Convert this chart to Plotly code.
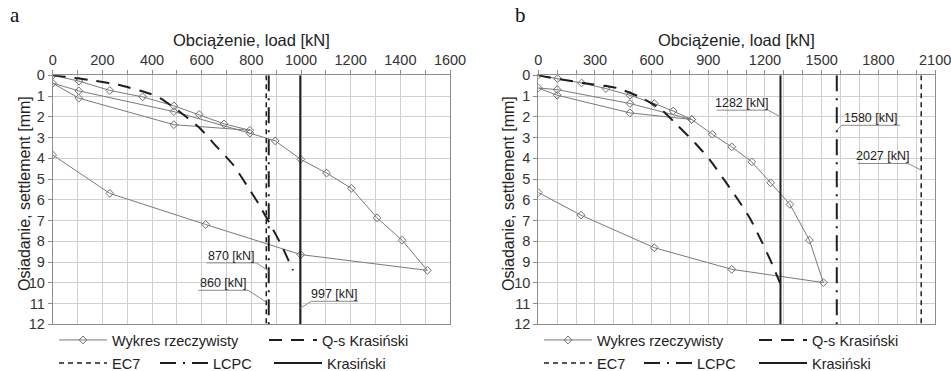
import plotly.graph_objects as go

# ---------------- data ----------------
# Panel a: measured load-settlement curve (Wykres rzeczywisty)
load_a = [0, 106, 230, 362, 488, 590, 690, 794, 488, 105, 0, 105, 488, 794, 896, 999,
          1103, 1203, 1306, 1407, 1509, 999, 616, 230, 0]
settl_a = [0, 0.28, 0.73, 1.04, 1.47, 1.89, 2.34, 2.65, 2.38, 1.10, 0.38, 0.75, 1.75, 2.79,
           3.16, 4.05, 4.71, 5.45, 6.87, 7.95, 9.40, 8.64, 7.19, 5.69, 3.84]
# Panel a: Q-s Krasiński curve
qs_load_a = [0, 63, 150, 264, 392, 439, 519, 593, 660, 727, 781, 828, 874, 921, 968]
qs_settl_a = [0, 0.09, 0.23, 0.46, 0.89, 1.15, 1.83, 2.55, 3.44, 4.32, 5.29, 6.17, 7.14, 8.19, 9.40]

# Panel b: measured curve
load_b = [0, 102, 229, 358, 485, 614, 714, 812, 485, 100, 0, 100, 485, 812, 921, 1024,
          1130, 1230, 1332, 1435, 1509, 1024, 614, 226, 0]
settl_b = [0, 0.16, 0.37, 0.64, 0.96, 1.36, 1.72, 2.13, 1.81, 0.96, 0.61, 0.69, 1.36, 2.13,
           2.84, 3.45, 4.17, 5.18, 6.22, 7.94, 9.99, 9.35, 8.31, 6.74, 5.65]
# Panel b: Q-s Krasiński curve
qs_load_b = [0, 62, 283, 415, 529, 644, 741, 830, 909, 985, 1059, 1121, 1183, 1236, 1280]
qs_settl_b = [0, 0.11, 0.43, 0.61, 1.01, 1.60, 2.45, 3.26, 4.09, 5.05, 6.02, 6.90, 8.02, 9.06, 10.02]

# Bearing capacities [kN]
ec7 = [860, 2027]
lcpc = [870, 1580]
krasinski = [997, 1282]

settl_range = [0, 12]
x_ticks_a = [0, 200, 400, 600, 800, 1000, 1200, 1400, 1600]
x_ticks_b = [0, 300, 600, 900, 1200, 1500, 1800, 2100]
y_ticks = list(range(0, 13))

names = ["Wykres rzeczywisty", "Q-s Krasiński", "EC7", "LCPC", "Krasiński"]

# label placement: (value, underline_x0, underline_x1, underline_y, leader end y, side)
labels_a = [(870, 620, 821, 9.04, 9.44, "right"),
            (860, 586, 787, 10.36, 10.93, "right"),
            (997, 1042, 1230, 10.89, 11.22, "left")]
labels_b = [(1282, 944, 1216, 1.68, 2.00, "right"),
            (1580, 1606, 1915, 2.41, 2.65, "left"),
            (2027, 1691, 1957, 4.25, 4.57, "right")]

# ---------------- styling ----------------
FONT = "Liberation Sans, Arial, sans-serif"
SERIF = "Liberation Serif, Times New Roman, serif"
GRID = "#cfcfcf"
AXC = "#8c8c8c"
DARK = "#1e1e1e"
W, H = 951, 371
ITEMW = 48
TICKF = 14.5

dom_a = [52.7 / W, 450 / W]
dom_b = [538.3 / W, 935 / W]
dom_y = [1 - 324.3 / H, 1 - 75.3 / H]

fig = go.Figure()

panels = [
    dict(xa="x", ya="y", load=load_a, settl=settl_a, qsl=qs_load_a, qss=qs_settl_a,
         ec7=ec7[0], lcpc=lcpc[0], kr=krasinski[0], leg0=2),
    dict(xa="x2", ya="y2", load=load_b, settl=settl_b, qsl=qs_load_b, qss=qs_settl_b,
         ec7=ec7[1], lcpc=lcpc[1], kr=krasinski[1], leg0=7),
]

def legname(i):
    return f"legend{i}"

for p in panels:
    lg = p["leg0"]
    fig.add_trace(go.Scatter(
        x=p["load"], y=p["settl"], mode="lines+markers", name=names[0],
        xaxis=p["xa"], yaxis=p["ya"], legend=legname(lg),
        line=dict(color="#7a7a7a", width=1),
        marker=dict(symbol="diamond-open", size=6, color="#6e6e6e", line=dict(width=1))))
    fig.add_trace(go.Scatter(
        x=p["qsl"], y=p["qss"], mode="lines", name=names[1],
        xaxis=p["xa"], yaxis=p["ya"], legend=legname(lg + 1),
        line=dict(color=DARK, width=2, dash="13px,9px", shape="spline", smoothing=0.6)))
    fig.add_trace(go.Scatter(
        x=[p["ec7"], p["ec7"]], y=settl_range, mode="lines", name=names[2],
        xaxis=p["xa"], yaxis=p["ya"], legend=legname(lg + 2),
        line=dict(color=DARK, width=1.5, dash="5px,4px")))
    fig.add_trace(go.Scatter(
        x=[p["lcpc"], p["lcpc"]], y=settl_range, mode="lines", name=names[3],
        xaxis=p["xa"], yaxis=p["ya"], legend=legname(lg + 3),
        line=dict(color=DARK, width=2, dash="16px,7px,2px,7px")))
    fig.add_trace(go.Scatter(
        x=[p["kr"], p["kr"]], y=settl_range, mode="lines", name=names[4],
        xaxis=p["xa"], yaxis=p["ya"], legend=legname(lg + 4),
        line=dict(color=DARK, width=2)))

def xaxis(domain, ticks, rng, anchor, edge_label_outside=False):
    # the right-most label of panel b touches the page edge; it is written as an
    # annotation below so the browser does not drop it
    text = [str(t) for t in ticks]
    if edge_label_outside:
        text[-1] = ""
    return dict(domain=domain, anchor=anchor, side="top", range=rng,
                tickvals=ticks, ticktext=text, ticks="outside", ticklen=4, tickcolor=AXC,
                tickfont=dict(size=TICKF, color="#333", family=FONT),
                showgrid=True, gridcolor=GRID, gridwidth=1,
                minor=dict(dtick=100, tick0=0, showgrid=True, gridcolor=GRID,
                           ticks="outside", ticklen=4, tickcolor=AXC),
                showline=True, linecolor=AXC, linewidth=1, mirror=True,
                zeroline=False, automargin=False, fixedrange=True)

def yaxis(anchor):
    return dict(domain=dom_y, anchor=anchor, range=[12, 0], tickvals=y_ticks,
                ticks="outside", ticklen=4, tickcolor=AXC,
                tickfont=dict(size=TICKF, color="#333", family=FONT),
                showgrid=True, gridcolor=GRID, gridwidth=1,
                showline=True, linecolor=AXC, linewidth=1, mirror=True,
                zeroline=False, automargin=False, fixedrange=True)

layout = dict(
    width=W, height=H, margin=dict(l=0, r=0, t=0, b=0, autoexpand=False),
    paper_bgcolor="white", plot_bgcolor="white",
    font=dict(family=FONT, color="#222"),
    xaxis=xaxis(dom_a, x_ticks_a, [0, 1600], "y"),
    yaxis=yaxis("x"),
    xaxis2=xaxis(dom_b, x_ticks_b, [0, 2100], "y2", edge_label_outside=True),
    yaxis2=yaxis("x2"),
)

# legends: one per item so each entry sits where it does in the original
row1 = 1 - 340 / H
row2 = 1 - 363 / H
leg_text_x = [
    [(112, row1), (322, row1), (112, row2), (213, row2), (327, row2)],
    [(597, row1), (812, row1), (597, row2), (697, row2), (812, row2)],
]
for pi, entries in enumerate(leg_text_x):
    for ei, (tx, ty) in enumerate(entries):
        key = legname(pi * 5 + ei + 2)
        layout[key] = dict(x=(tx - ITEMW - 10) / W, y=ty, xref="container", yref="container",
                           xanchor="left", yanchor="middle", bgcolor="rgba(0,0,0,0)",
                           borderwidth=0, font=dict(size=14.5, family=FONT, color="#222"),
                           itemwidth=ITEMW, orientation="h")

fig.update_layout(**layout)

annotations = []
shapes = []
# right-most tick label of panel b
annotations.append(dict(text=str(x_ticks_b[-1]), x=x_ticks_b[-1], xref="x2",
                        y=1 - 60 / H, yref="paper", xanchor="center", yanchor="middle",
                        showarrow=False, font=dict(size=TICKF, color="#333", family=FONT)))
# panel letters
for letter, lx in [("a", 15), ("b", 520)]:
    annotations.append(dict(text=letter, x=lx / W, y=1 - 15 / H, xref="paper", yref="paper",
                            xanchor="center", yanchor="middle", showarrow=False,
                            font=dict(size=21, family=SERIF, color="#111")))
# axis titles
for dom, yx in [(dom_a, 24), (dom_b, 508)]:
    annotations.append(dict(text="Obciążenie, load [kN]", x=(dom[0] + dom[1]) / 2, y=1 - 40 / H,
                            xref="paper", yref="paper", xanchor="center", yanchor="middle",
                            showarrow=False, font=dict(size=16.5, family=FONT, color="#222")))
    annotations.append(dict(text="Osiadanie, settlement [mm]", x=yx / W, y=1 - 194 / H,
                            xref="paper", yref="paper", xanchor="center", yanchor="middle",
                            showarrow=False, textangle=-90,
                            font=dict(size=16, family=FONT, color="#222")))

# value labels with leader lines
for labs, xr, yr in [(labels_a, "x", "y"), (labels_b, "x2", "y2")]:
    for val, ux0, ux1, uy, ey, side in labs:
        annotations.append(dict(text=f"{val} [kN]", x=(ux0 + ux1) / 2, y=uy, xref=xr, yref=yr,
                                xanchor="center", yanchor="bottom", showarrow=False, yshift=-2,
                                font=dict(size=12.5, family=FONT, color="#222")))
        if side == "right":
            path = f"M {ux0},{uy} L {ux1},{uy} L {val},{ey}"
        else:
            path = f"M {ux1},{uy} L {ux0},{uy} L {val},{ey}"
        shapes.append(dict(type="path", path=path, xref=xr, yref=yr,
                           line=dict(color="#8a8a8a", width=1)))

fig.update_layout(annotations=annotations, shapes=shapes)

fig.write_html("out.html")
